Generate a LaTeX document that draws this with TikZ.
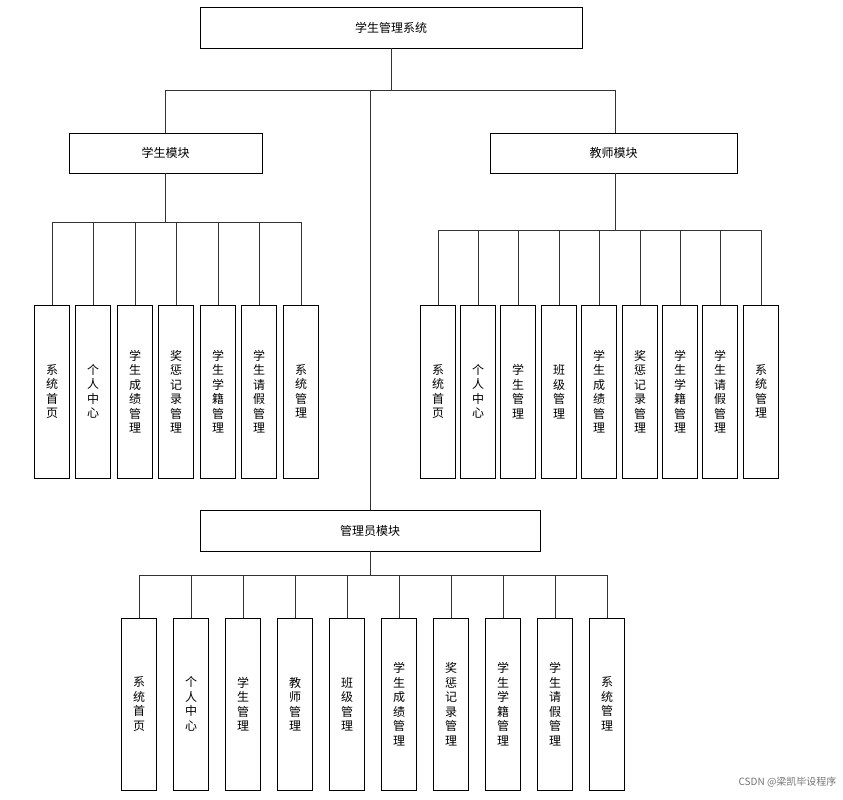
\documentclass[tikz,border=0pt]{standalone}
\usepackage{fontspec}
\newfontfamily\cjk{Noto Sans CJK SC}
\begin{document}
\begin{tikzpicture}[x=1pt,y=-1pt,
  box/.style={draw=black,line width=0.9pt,inner sep=0pt,font=\cjk\fontsize{12}{14.5}\selectfont},
  vbox/.style={box,minimum width=35pt,minimum height=173pt,align=center},
  ln/.style={draw=black!80,line width=0.9pt}]
\useasboundingbox (0,0) rectangle (843,800);
\node[box,minimum width=382pt,minimum height=41pt] (top) at (391,27.5) {学生管理系统};
\node[box,minimum width=193pt,minimum height=40pt] (stu) at (165.5,153) {学生模块};
\node[box,minimum width=247pt,minimum height=40pt] (tea) at (613.5,153) {教师模块};
\node[box,minimum width=340pt,minimum height=41pt] (adm) at (370,530.5) {管理员模块};
\coordinate (j1) at (391,90);
\coordinate (jl) at (165,90);
\coordinate (jr) at (615,90);
\coordinate (ja) at (370,90);
\draw[ln] (top.south -| j1) -- (j1);
\draw[ln] (jl) -- (jr);
\draw[ln] (jl) -- (stu.north -| jl);
\draw[ln] (jr) -- (tea.north -| jr);
\draw[ln] (ja) -- (adm.north -| ja);
% student
\coordinate (sb) at (165,222);
\draw[ln] (stu.south -| sb) -- (sb);
\foreach \x/\t [count=\i] in {52/系\\统\\首\\页,93/个\\人\\中\\心,135/学\\生\\成\\绩\\管\\理,176/奖\\惩\\记\\录\\管\\理,218/学\\生\\学\\籍\\管\\理,259/学\\生\\请\\假\\管\\理,301/系\\统\\管\\理}{
  \node[vbox] (s\i) at (\x,391.5) {\t};
  \draw[ln] (s\i.north) -- (\x,222);
}
\draw[ln] (s1.north |- sb) -- (s7.north |- sb);
% teacher
\coordinate (tb) at (615,230);
\draw[ln] (tea.south -| tb) -- (tb);
\foreach \x/\t [count=\i] in {438/系\\统\\首\\页,478/个\\人\\中\\心,518/学\\生\\管\\理,559/班\\级\\管\\理,599/学\\生\\成\\绩\\管\\理,640/奖\\惩\\记\\录\\管\\理,680/学\\生\\学\\籍\\管\\理,720/学\\生\\请\\假\\管\\理,761/系\\统\\管\\理}{
  \node[vbox] (t\i) at (\x,391.5) {\t};
  \draw[ln] (t\i.north) -- (\x,230);
}
\draw[ln] (t1.north |- tb) -- (t9.north |- tb);
% admin
\coordinate (ab) at (370,575);
\draw[ln] (adm.south -| ab) -- (ab);
\foreach \x/\t [count=\i] in {139/系\\统\\首\\页,191/个\\人\\中\\心,243/学\\生\\管\\理,295/教\\师\\管\\理,347/班\\级\\管\\理,399/学\\生\\成\\绩\\管\\理,451/奖\\惩\\记\\录\\管\\理,503/学\\生\\学\\籍\\管\\理,555/学\\生\\请\\假\\管\\理,607/系\\统\\管\\理}{
  \node[vbox,minimum height=172pt] (a\i) at (\x,704) {\t};
  \draw[ln] (a\i.north) -- (\x,575);
}
\draw[ln] (a1.north |- ab) -- (a10.north |- ab);
\node[font=\cjk\fontsize{10}{12}\selectfont,text=black!55,anchor=east] (wm) at (840,782) {CSDN @梁凯毕设程序};
\end{tikzpicture}
\end{document}
